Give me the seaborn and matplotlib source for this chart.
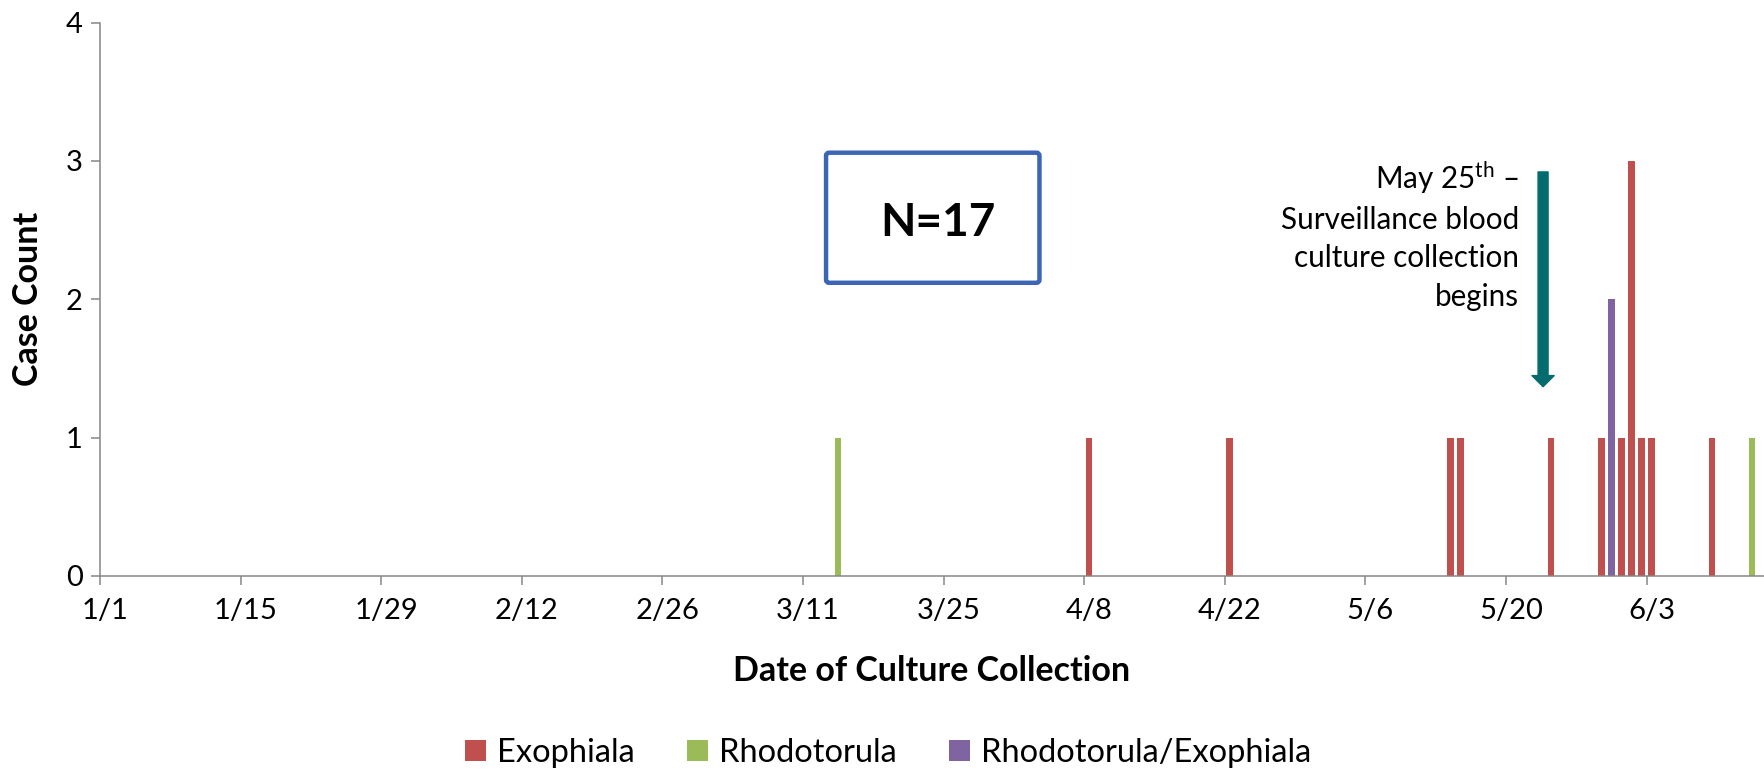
import pandas as pd
import matplotlib
matplotlib.use("Agg")
import matplotlib.pyplot as plt
import seaborn as sns
from matplotlib.patches import Patch, FancyBboxPatch

# ====== data ======
collection_dates = ["3/14", "4/8", "4/22", "5/14", "5/15", "5/24", "5/29",
                    "5/30", "5/31", "6/1", "6/2", "6/3", "6/9", "6/13"]
case_counts = [1, 1, 1, 1, 1, 1, 1, 2, 1, 3, 1, 1, 1, 1]
organisms = ["Rhodotorula", "Exophiala", "Exophiala", "Exophiala", "Exophiala",
             "Exophiala", "Exophiala", "Rhodotorula/Exophiala", "Exophiala",
             "Exophiala", "Exophiala", "Exophiala", "Exophiala", "Rhodotorula"]
organism_order = ["Exophiala", "Rhodotorula", "Rhodotorula/Exophiala"]
organism_colors = ["#C0504D", "#9BBB59", "#8064A2"]
tick_labels = ["1/1", "1/15", "1/29", "2/12", "2/26", "3/11", "3/25",
               "4/8", "4/22", "5/6", "5/20", "6/3"]
year = 2016
n_total = 17

start = pd.Timestamp(f"{year}-01-01")
df = pd.DataFrame({
    "date": pd.to_datetime([f"{year}/{d}" for d in collection_dates]),
    "count": case_counts,
    "organism": organisms,
})
df["day"] = (df["date"] - start).dt.days
tick_days = [(pd.Timestamp(f"{year}/{t}") - start).days for t in tick_labels]

# ====== style ======
sns.set_theme(style="ticks")
plt.rcParams["font.family"] = ["Lato", "DejaVu Sans"]
plt.rcParams["mathtext.fontset"] = "custom"
plt.rcParams["mathtext.rm"] = "Lato"
plt.rcParams["text.color"] = "black"
plt.rcParams["axes.labelcolor"] = "black"
axis_gray = "#868686"

fig = plt.figure(figsize=(17.64, 7.70), dpi=100)
ax = fig.add_axes([100 / 1764, 194 / 770, 1664 / 1764, 553.5 / 770])

sns.barplot(data=df, x="day", y="count", hue="organism",
            hue_order=organism_order, palette=organism_colors,
            native_scale=True, dodge=False, width=0.65, errorbar=None,
            saturation=1, linewidth=0, legend=False, ax=ax)

ax.set_xlim(-0.5, 165.2)
ax.set_ylim(0, 4)
ax.set_yticks([0, 1, 2, 3, 4])

# ticks on day boundaries, labels centred on the day
ax.set_xticks([d - 0.5 for d in tick_days])
ax.set_xticklabels([])
ax.set_xticks(tick_days, minor=True)
ax.set_xticklabels(tick_labels, minor=True)
ax.tick_params(axis="x", which="major", length=6.5, width=1.1, color=axis_gray)
ax.tick_params(axis="x", which="minor", length=0, pad=16, labelsize=21,
               labelcolor="black")
ax.tick_params(axis="y", length=6.5, width=1.1, color=axis_gray, pad=6,
               labelsize=21, labelcolor="black")

sns.despine(ax=ax)
for side in ["left", "bottom"]:
    ax.spines[side].set_color(axis_gray)
    ax.spines[side].set_linewidth(1.1)

ax.set_xlabel("Date of Culture Collection", fontsize=24.5, fontweight="bold")
ax.set_ylabel("Case Count", fontsize=24.5, fontweight="bold")
ax.xaxis.label.set_va("center")
ax.xaxis.set_label_coords(0.5, -0.1716)
ax.yaxis.label.set_va("center")
ax.yaxis.set_label_coords(-0.0433, 0.5)

# N box
box = FancyBboxPatch((71.8, 2.119), 93.05 - 71.8, 3.059 - 2.119,
                     boxstyle="round,pad=0,rounding_size=0.3",
                     mutation_aspect=1 / 13.8,
                     facecolor="white", edgecolor="#3D65B5", linewidth=3.2,
                     zorder=3)
ax.add_patch(box)
ax.text(82.9, 2.457, f"N={n_total}", ha="center", va="baseline",
        fontsize=33, fontweight="bold", zorder=4)

# surveillance annotation
ax.annotate("", xy=(143.2, 1.368), xytext=(143.2, 2.92),
            arrowprops=dict(arrowstyle="simple,head_length=0.4,head_width=0.8,tail_width=0.36",
                            mutation_scale=20, color="#046C6E",
                            shrinkA=0, shrinkB=0))
ax.text(140.8, 1.953,
        "May 25$^{\\mathrm{th}}$ –\nSurveillance blood\nculture collection\nbegins",
        ha="right", va="baseline", multialignment="right",
        fontsize=21.3, linespacing=1.45)

handles = [Patch(facecolor=c, edgecolor="none", label=o)
           for o, c in zip(organism_order, organism_colors)]
fig.legend(handles=handles, loc="center", bbox_to_anchor=(0.5034, 1 - 753 / 770),
           ncol=3, frameon=False, fontsize=23.5, handlelength=0.64,
           handleheight=0.64, handletextpad=0.34, columnspacing=1.6)

fig.savefig("out.png", dpi=100)
